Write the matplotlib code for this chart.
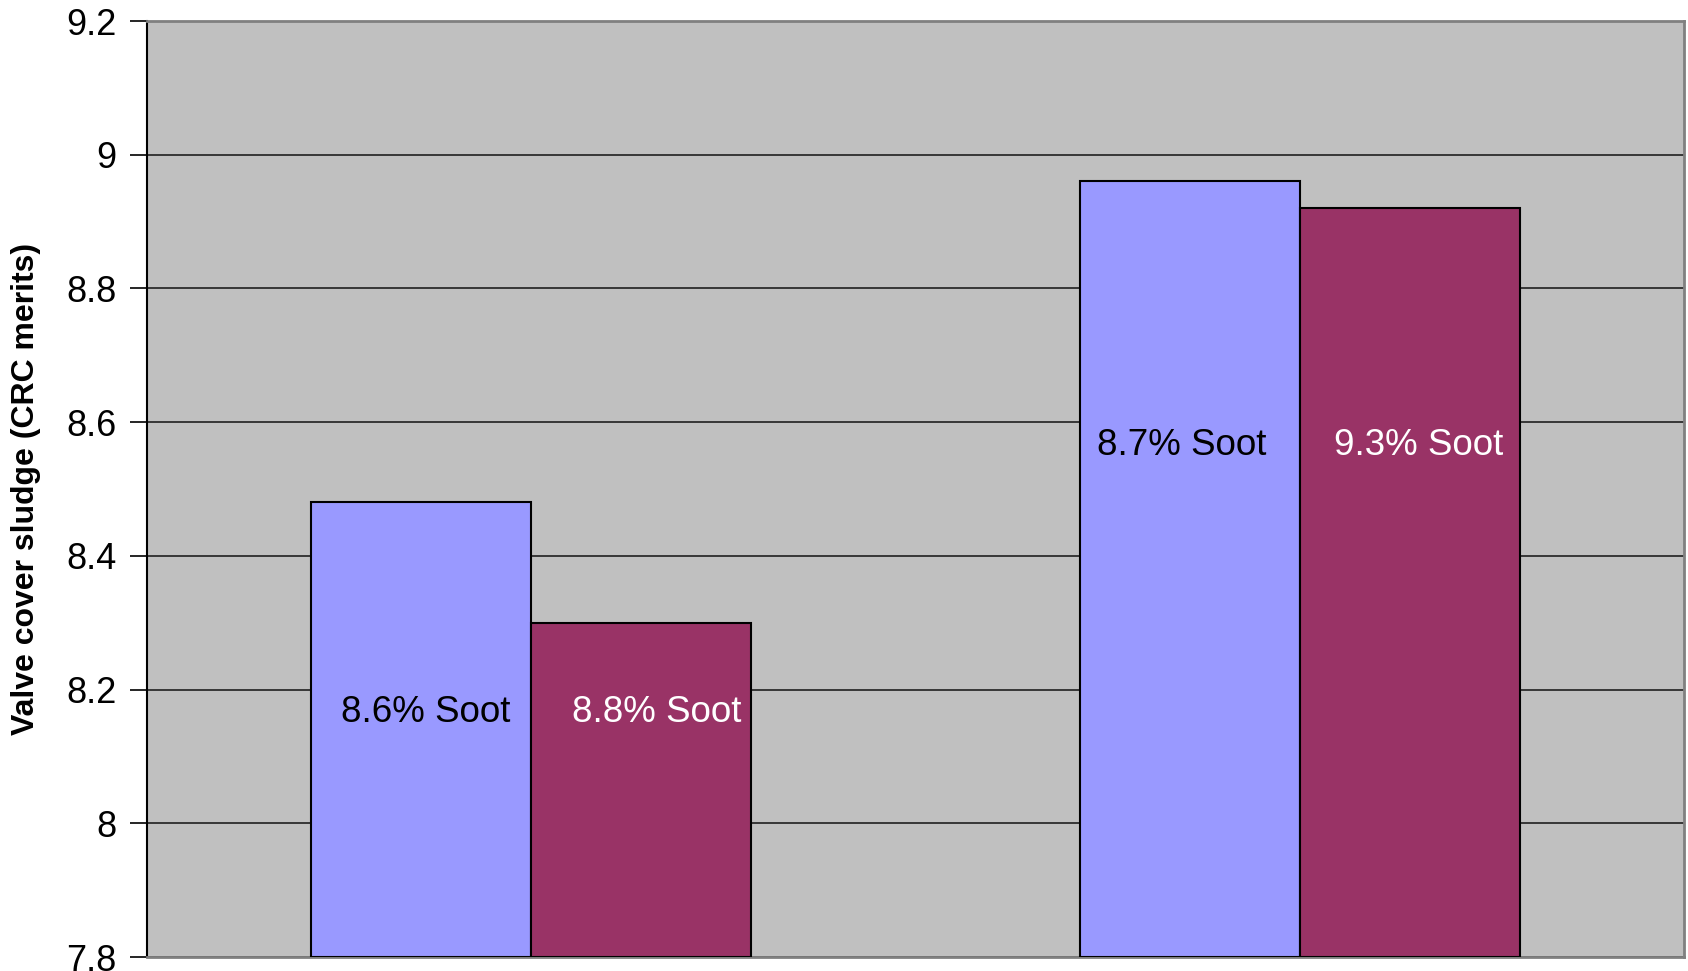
import matplotlib
matplotlib.use("Agg")
import matplotlib.pyplot as plt
import numpy as np

plt.rcParams['font.family'] = ['Liberation Sans', 'DejaVu Sans']

groups = [0, 1]
series_a = [8.48, 8.96]
series_b = [8.30, 8.92]
labels_a = ["8.6% Soot", "8.7% Soot"]
labels_b = ["8.8% Soot", "9.3% Soot"]
label_y = [8.165, 8.565]
yticks = [7.8, 8.0, 8.2, 8.4, 8.6, 8.8, 9.0, 9.2]
ytick_labels = ["7.8", "8", "8.2", "8.4", "8.6", "8.8", "9", "9.2"]

fig = plt.figure(figsize=(16.88, 9.71), dpi=100)
ax = fig.add_axes([147/1688, 1 - 957/971, (1684-147)/1688, (957-21)/971])
ax.set_facecolor('#c0c0c0')

w = 0.286
x = np.array(groups)
ax.bar(x - w/2, np.array(series_a) - 7.8, bottom=7.8, width=w, color='#9999ff',
       edgecolor='black', linewidth=1.5, zorder=3)
ax.bar(x + w/2, np.array(series_b) - 7.8, bottom=7.8, width=w, color='#993366',
       edgecolor='black', linewidth=1.5, zorder=3)

dx_a = [0.005, -0.01]
dx_b = [0.02, 0.012]
for i in range(len(groups)):
    ax.text(x[i] - w/2 + dx_a[i], label_y[i], labels_a[i], ha='center', va='center',
            fontsize=26.5, color='black', zorder=4)
    ax.text(x[i] + w/2 + dx_b[i], label_y[i], labels_b[i], ha='center', va='center',
            fontsize=26.5, color='white', zorder=4)

ax.set_xlim(-0.5, 1.5)
ax.set_ylim(7.8, 9.2)
ax.set_yticks(yticks)
ax.set_yticklabels(ytick_labels, fontsize=26)
ax.set_xticks([])
ax.yaxis.grid(True, color='#202020', linewidth=1.2, zorder=1)
ax.set_axisbelow(True)
ax.tick_params(axis='y', direction='out', length=12, width=1.2, pad=10, color='black')

ax.spines['left'].set_color('black')
ax.spines['left'].set_linewidth(1.5)
for s in ['top', 'right', 'bottom']:
    ax.spines[s].set_color('#808080')
    ax.spines[s].set_linewidth(2)

ax.set_ylabel("Valve cover sludge (CRC merits)", fontsize=23, fontweight='bold')
ax.yaxis.set_label_coords(-106/1537, 0.5)

fig.savefig("out.png", dpi=100)
